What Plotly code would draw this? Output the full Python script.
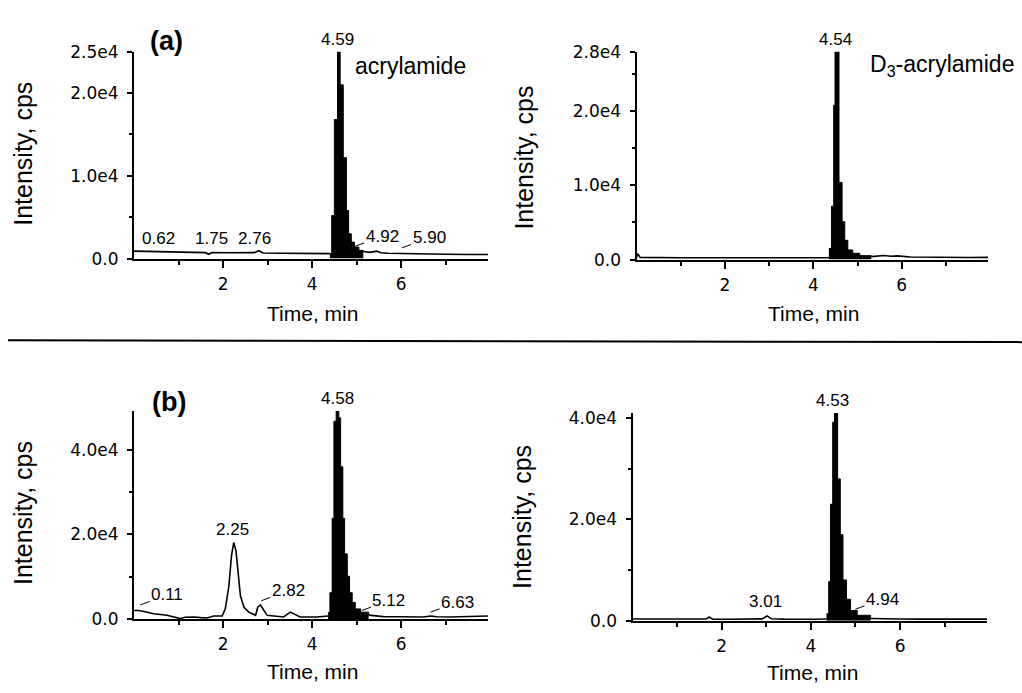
import plotly.graph_objects as go

# ---------------- data ----------------
X_TICKS = [2, 4, 6]
X_TICK_TEXT = ["2", "4", "6"]
X_MINOR = [1, 3, 5, 7]

# (a) acrylamide
A_L_PRE_T = [0.0, 0.3, 0.62, 1.0, 1.4, 1.6, 1.68, 1.75, 2.1, 2.5, 2.7, 2.8, 2.9, 3.3, 3.8, 4.2, 4.40]
A_L_PRE_I = [900, 860, 840, 800, 760, 720, 520, 740, 700, 680, 720, 950, 680, 640, 600, 580, 600]
A_L_PEAK_T = [4.40, 4.44, 4.50, 4.57, 4.63, 4.70, 4.77, 4.82, 4.88, 4.95, 5.05, 5.15]
A_L_PEAK_I = [600, 5200, 16800, 25000, 21000, 12200, 5800, 3000, 2000, 1400, 1000, 850]
A_L_POST_T = [5.15, 5.3, 5.45, 5.55, 5.7, 5.9, 6.2, 6.6, 7.0, 7.5, 7.95]
A_L_POST_I = [850, 750, 900, 700, 650, 620, 560, 540, 520, 500, 500]
A_L_YTICKS = [0, 10000, 20000, 25000]
A_L_YTEXT = ["0.0", "1.0e4", "2.0e4", "2.5e4"]
A_L_YMINOR = [5000, 15000]
A_L_YMAX = 25000

# (a) D3-acrylamide
A_R_PRE_T = [0.0, 0.03, 0.08, 0.5, 1.0, 1.5, 2.0, 2.5, 3.0, 3.5, 4.0, 4.35]
A_R_PRE_I = [300, 800, 300, 250, 250, 240, 230, 230, 220, 220, 220, 250]
A_R_PEAK_T = [4.35, 4.41, 4.46, 4.49, 4.58, 4.65, 4.71, 4.78, 4.89, 5.05, 5.31]
A_R_PEAK_I = [1500, 7200, 20800, 28000, 10400, 5100, 2600, 1300, 850, 530, 400]
A_R_POST_T = [5.31, 5.45, 5.6, 5.75, 5.9, 6.2, 6.6, 7.0, 7.5, 7.95]
A_R_POST_I = [400, 450, 550, 450, 500, 350, 300, 300, 280, 300]
A_R_YTICKS = [0, 10000, 20000, 28000]
A_R_YTEXT = ["0.0", "1.0e4", "2.0e4", "2.8e4"]
A_R_YMINOR = [5000, 15000, 25000]
A_R_YMAX = 28000

# (b) acrylamide
B_L_PRE_T = [0.0, 0.11, 0.22, 0.44, 0.74, 0.89, 1.04, 1.15, 1.34, 1.5, 1.64, 1.79, 1.98, 2.05,
             2.13, 2.19, 2.24, 2.29, 2.34, 2.39, 2.47, 2.58, 2.73, 2.78, 2.84, 2.91, 2.99, 3.14,
             3.36, 3.51, 3.62, 3.73, 4.11, 4.36]
B_L_PRE_I = [1990, 2000, 1770, 1220, 850, 460, 80, 400, 460, 300, 230, 690, 690, 2370,
             7730, 15000, 18080, 16170, 10800, 5440, 2760, 1610, 850, 2760, 3300, 1990, 850, 690,
             460, 1610, 1000, 460, 460, 700]
B_L_PEAK_T = [4.36, 4.40, 4.45, 4.49, 4.54, 4.60, 4.64, 4.69, 4.73, 4.79, 4.84, 4.90, 4.97, 5.09, 5.27]
B_L_PEAK_I = [1500, 6200, 23800, 46800, 49200, 47600, 36000, 23800, 15400, 10100, 6200, 3900, 2370, 1600, 900]
B_L_POST_T = [5.27, 5.4, 5.6, 5.9, 6.2, 6.5, 6.66, 6.8, 7.1, 7.4, 7.6, 7.95]
B_L_POST_I = [900, 700, 550, 500, 450, 450, 700, 500, 450, 500, 650, 700]
B_L_YTICKS = [0, 20000, 40000]
B_L_YTEXT = ["0.0", "2.0e4", "4.0e4"]
B_L_YMINOR = [10000, 30000]
B_L_YMAX = 49200

# (b) D3-acrylamide
B_R_PRE_T = [0.0, 0.5, 1.0, 1.5, 1.65, 1.72, 1.8, 2.2, 2.6, 2.9, 3.02, 3.12, 3.4, 3.8, 3.85, 4.1, 4.35]
B_R_PRE_I = [350, 330, 320, 320, 350, 760, 330, 320, 320, 380, 950, 400, 330, 200, 320, 320, 350]
B_R_PEAK_T = [4.35, 4.40, 4.44, 4.49, 4.53, 4.60, 4.66, 4.72, 4.80, 4.89, 5.04, 5.34]
B_R_PEAK_I = [1400, 7750, 23000, 39200, 41000, 28000, 17000, 8060, 4250, 2030, 1090, 570]
B_R_POST_T = [5.34, 5.6, 6.0, 6.5, 7.0, 7.5, 7.95]
B_R_POST_I = [450, 380, 350, 330, 330, 330, 330]
B_R_YTICKS = [0, 20000, 40000]
B_R_YTEXT = ["0.0", "2.0e4", "4.0e4"]
B_R_YMINOR = [10000, 30000]
B_R_YMAX = 41000

# peak labels: (text, time, intensity)
A_L_LABELS = [("0.62", 0.55, 2400), ("1.75", 1.75, 2400), ("2.76", 2.70, 2400)]
A_L_TICKED = [("4.92", 4.97, 1500), ("5.90", 6.02, 1300)]
A_L_APEX = ("4.59", 4.57, 25000)
A_R_APEX = ("4.54", 4.50, 28000)
B_L_LABELS = [("2.25", 2.22, 21150)]
B_L_TICKED = [("0.11", 0.14, 3300), ("2.82", 2.86, 4300), ("5.12", 5.12, 2000), ("6.63", 6.66, 1600)]
B_L_APEX = ("4.58", 4.56, 49200)
B_R_LABELS = [("3.01", 2.99, 3900)]
B_R_TICKED = [("4.94", 5.00, 2300)]
B_R_APEX = ("4.53", 4.48, 41000)

# ---------------- figure ----------------
W, H = 1022, 693


def fx(p):
    return p / W


def fy(p):
    return 1 - p / H


NUM_FONT = dict(family="DejaVu Sans", size=17, color="black")
LAB_FONT = dict(family="Liberation Sans, Arial", size=17, color="black")
TITLE_FONT = dict(family="Liberation Sans, Arial", size=21, color="black")

panels = [
    dict(xs="x", ys="y", xd=[fx(134), fx(488)], yd=[fy(256), fy(43)],
         pre=(A_L_PRE_T, A_L_PRE_I), peak=(A_L_PEAK_T, A_L_PEAK_I), post=(A_L_POST_T, A_L_POST_I),
         yt=(A_L_YTICKS, A_L_YTEXT, A_L_YMINOR, A_L_YMAX),
         labels=A_L_LABELS, ticked=A_L_TICKED, apex=A_L_APEX),
    dict(xs="x2", ys="y2", xd=[fx(636.5), fx(988)], yd=[fy(257), fy(43)],
         pre=(A_R_PRE_T, A_R_PRE_I), peak=(A_R_PEAK_T, A_R_PEAK_I), post=(A_R_POST_T, A_R_POST_I),
         yt=(A_R_YTICKS, A_R_YTEXT, A_R_YMINOR, A_R_YMAX),
         labels=[], ticked=[], apex=A_R_APEX),
    dict(xs="x3", ys="y3", xd=[fx(134), fx(488)], yd=[fy(627), fy(413)],
         pre=(B_L_PRE_T, B_L_PRE_I), peak=(B_L_PEAK_T, B_L_PEAK_I), post=(B_L_POST_T, B_L_POST_I),
         yt=(B_L_YTICKS, B_L_YTEXT, B_L_YMINOR, B_L_YMAX),
         labels=B_L_LABELS, ticked=B_L_TICKED, apex=B_L_APEX),
    dict(xs="x4", ys="y4", xd=[fx(632.5), fx(987)], yd=[fy(629), fy(415)],
         pre=(B_R_PRE_T, B_R_PRE_I), peak=(B_R_PEAK_T, B_R_PEAK_I), post=(B_R_POST_T, B_R_POST_I),
         yt=(B_R_YTICKS, B_R_YTEXT, B_R_YMINOR, B_R_YMAX),
         labels=B_R_LABELS, ticked=B_R_TICKED, apex=B_R_APEX),
]

fig = go.Figure()
annotations = []
layout_axes = {}

for p in panels:
    for seg in (p["pre"], p["post"]):
        fig.add_trace(go.Scatter(x=seg[0], y=seg[1], mode="lines",
                                 line=dict(color="black", width=1.6),
                                 xaxis=p["xs"], yaxis=p["ys"], hoverinfo="skip"))
    fig.add_trace(go.Scatter(x=p["peak"][0], y=p["peak"][1], mode="lines",
                             line=dict(color="black", width=1, shape="hv"),
                             fill="tozeroy", fillcolor="black",
                             xaxis=p["xs"], yaxis=p["ys"], hoverinfo="skip"))

    xname = "xaxis" + p["xs"][1:]
    yname = "yaxis" + p["ys"][1:]
    yticks, ytext, yminor, ymax = p["yt"]
    layout_axes[xname] = dict(
        domain=p["xd"], anchor=p["ys"], range=[0, 7.95],
        tickmode="array", tickvals=X_TICKS, ticktext=X_TICK_TEXT,
        showline=True, linecolor="black", linewidth=2,
        ticks="outside", ticklen=7, tickwidth=1.5, tickcolor="black",
        minor=dict(tickvals=X_MINOR, ticks="outside", ticklen=4, tickwidth=1.5, tickcolor="black"),
        showgrid=False, zeroline=False, tickfont=NUM_FONT, ticklabelstandoff=2,
    )
    layout_axes[yname] = dict(
        domain=p["yd"], anchor=p["xs"], range=[0, ymax],
        tickmode="array", tickvals=yticks, ticktext=ytext,
        showline=True, linecolor="black", linewidth=2,
        ticks="outside", ticklen=5, tickwidth=1.5, tickcolor="black",
        minor=dict(tickvals=yminor, ticks="outside", ticklen=3, tickwidth=1.5, tickcolor="black"),
        showgrid=False, zeroline=False, tickfont=NUM_FONT, ticklabelstandoff=5,
    )

    for text, t, v in p["labels"]:
        annotations.append(dict(x=t, y=v, xref=p["xs"], yref=p["ys"], text=text,
                                xanchor="center", yanchor="middle",
                                showarrow=False, font=LAB_FONT))
    for text, t, v in p["ticked"]:
        annotations.append(dict(x=t, y=v, xref=p["xs"], yref=p["ys"], text=text,
                                showarrow=True, arrowhead=0, arrowwidth=1, arrowcolor="black",
                                ax=27, ay=-10, font=LAB_FONT, standoff=0))
    text, t, v = p["apex"]
    annotations.append(dict(x=t, y=v, xref=p["xs"], yref=p["ys"], text=text,
                            showarrow=False, xanchor="center", yanchor="bottom", yshift=1,
                            font=LAB_FONT))

# compound names
annotations.append(dict(x=4.92, y=23300, xref="x", yref="y", text="acrylamide",
                        showarrow=False, xanchor="left", yanchor="middle",
                        font=dict(family="Liberation Sans, Arial", size=23, color="black")))
annotations.append(dict(x=5.23, y=26200, xref="x2", yref="y2", text="D<sub>3</sub>-acrylamide",
                        showarrow=False, xanchor="left", yanchor="middle",
                        font=dict(family="Liberation Sans, Arial", size=23, color="black")))

# panel letters
for letter, cx, cy in [("<b>(a)</b>", 166, 32), ("<b>(b)</b>", 169, 404)]:
    annotations.append(dict(x=fx(cx), y=fy(cy), xref="paper", yref="paper", text=letter,
                            xanchor="center", yanchor="middle", showarrow=False,
                            font=dict(family="Liberation Sans, Arial", size=27, color="black")))

# axis titles
for cx, cy in [(23, 148), (524, 152), (23, 518), (522, 522)]:
    annotations.append(dict(x=fx(cx), y=fy(cy), xref="paper", yref="paper", text="Intensity, cps",
                            textangle=-90, showarrow=False, xanchor="center", yanchor="middle",
                            font=dict(family="Liberation Sans, Arial", size=25, color="black")))
for cx, cy in [(312, 313), (813, 313), (312, 681), (812, 682)]:
    annotations.append(dict(x=fx(cx), y=fy(cy), xref="paper", yref="paper", text="Time, min",
                            showarrow=False, xanchor="center", yanchor="middle", font=TITLE_FONT))

fig.update_layout(
    width=W, height=H,
    margin=dict(l=0, r=0, t=0, b=0),
    paper_bgcolor="white", plot_bgcolor="white",
    showlegend=False,
    annotations=annotations,
    shapes=[dict(type="line", xref="paper", yref="paper",
                 x0=fx(8), y0=fy(340), x1=1, y1=fy(342),
                 line=dict(color="black", width=2))],
    **layout_axes,
)

fig.write_html(
    "out.html",
    config={"displayModeBar": False},
    post_script="document.body.style.margin='0';document.body.style.overflow='hidden';",
)
